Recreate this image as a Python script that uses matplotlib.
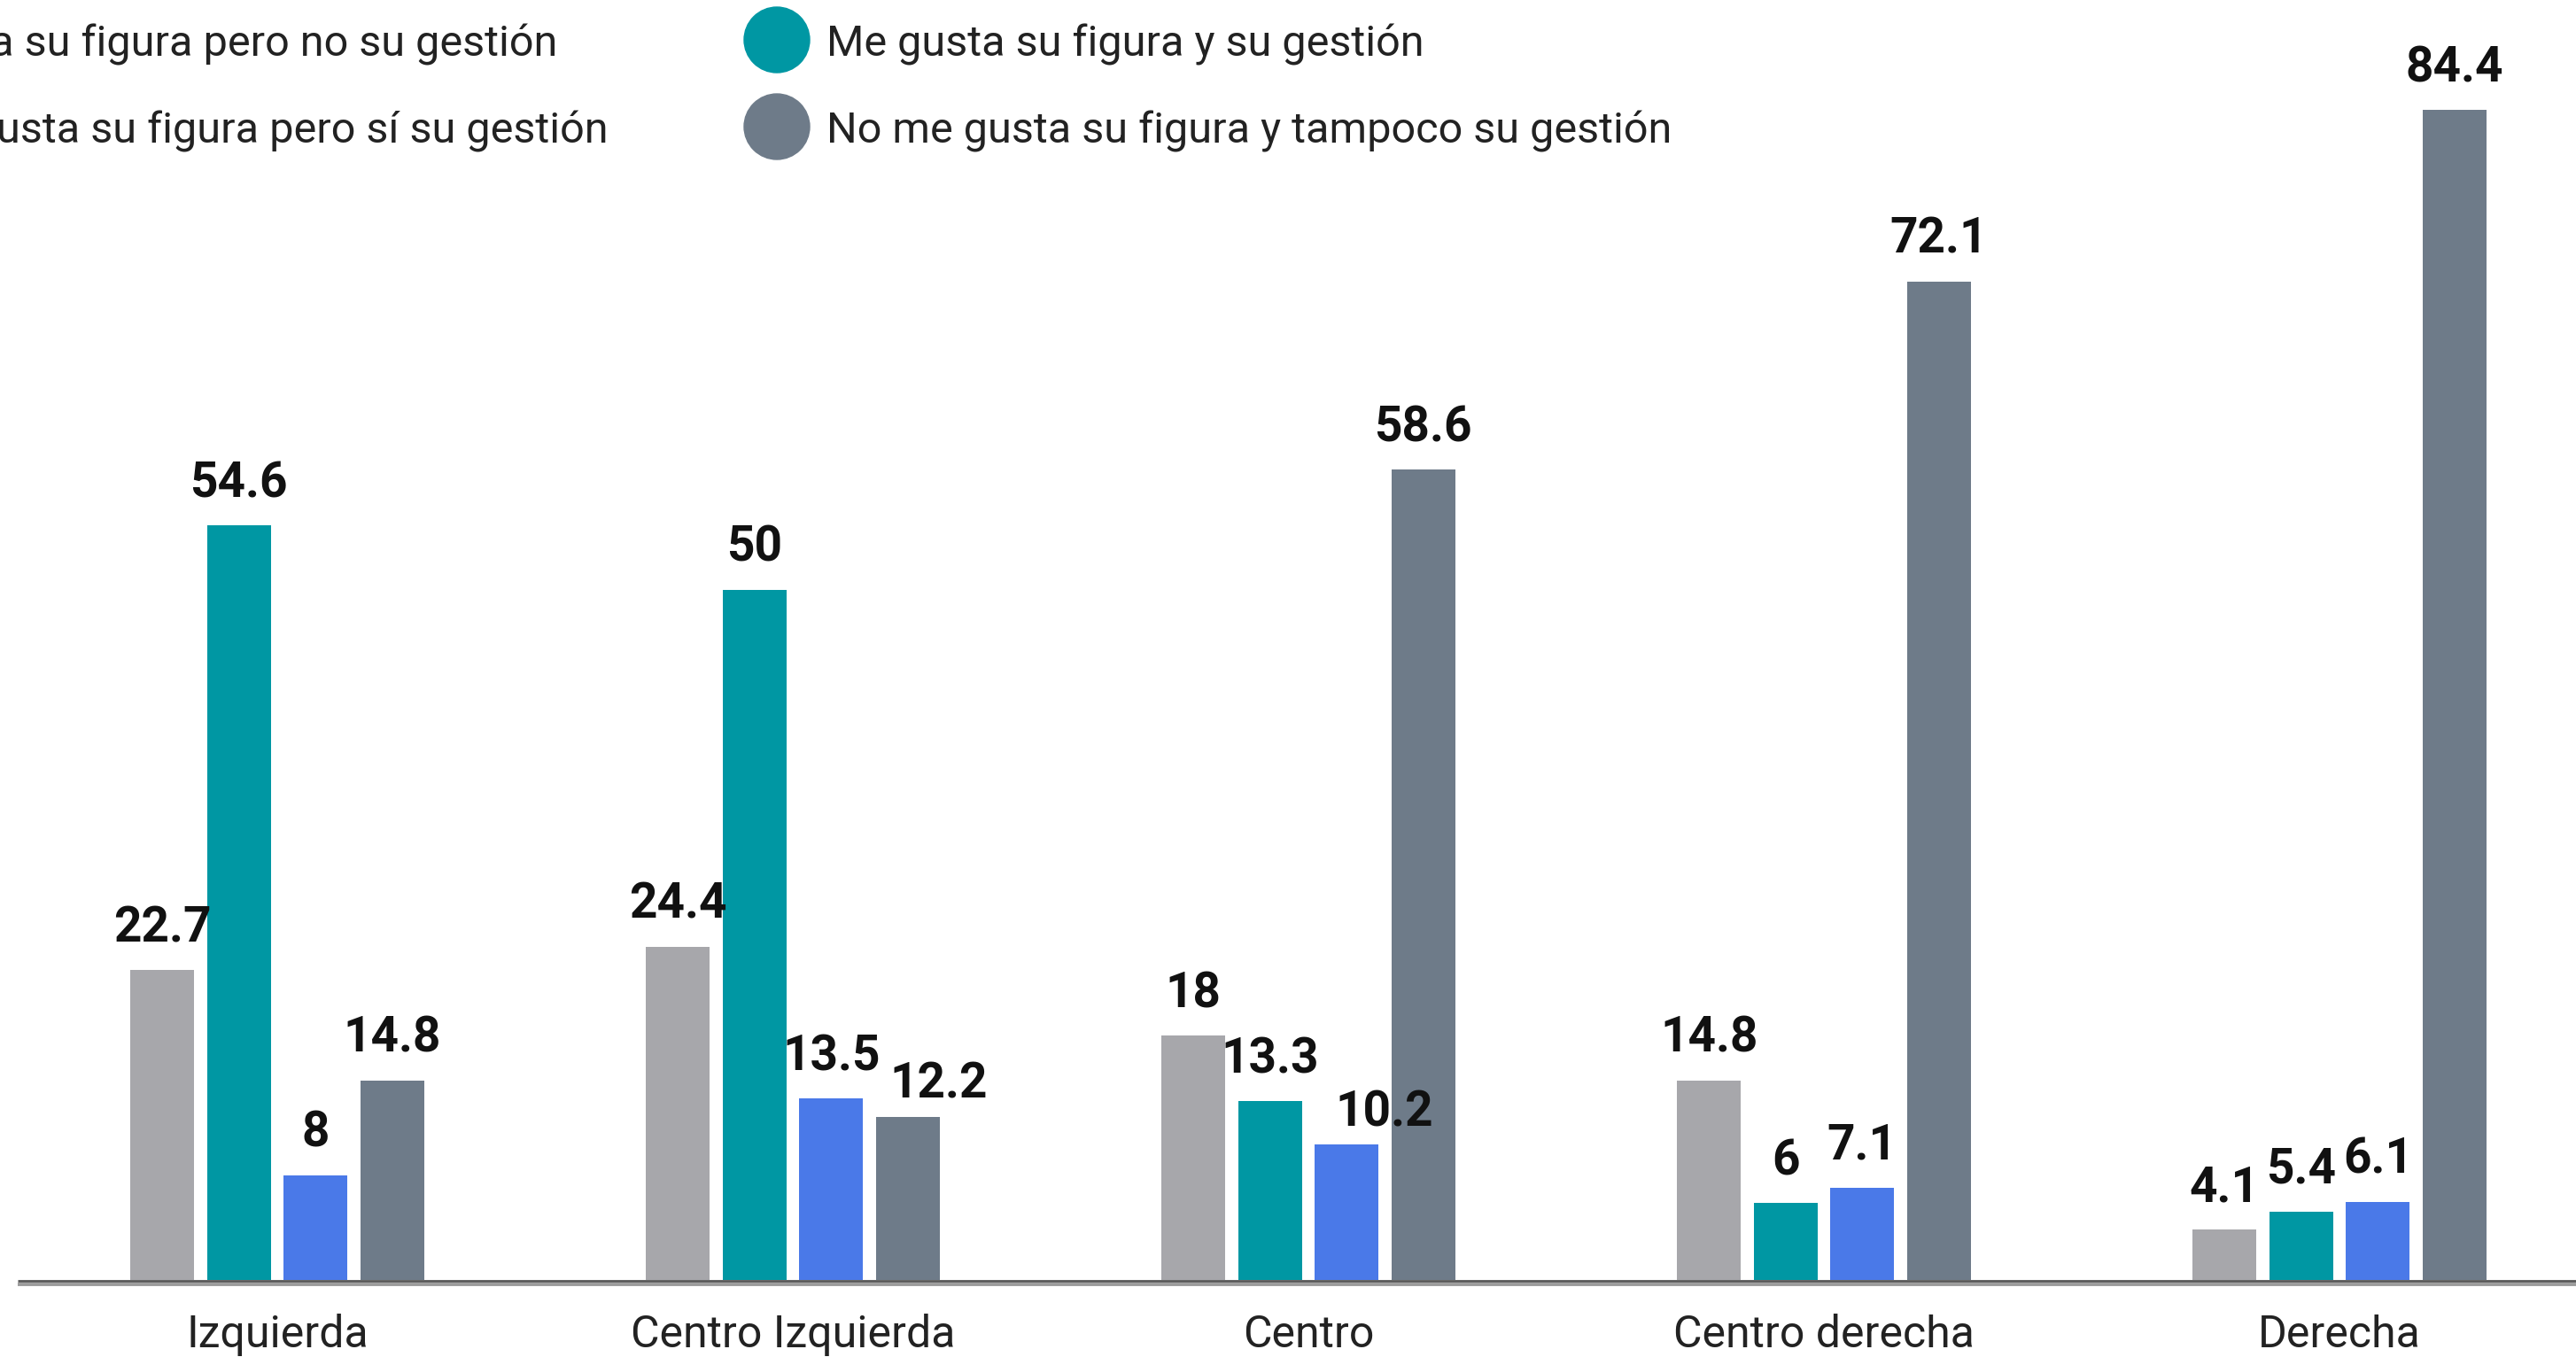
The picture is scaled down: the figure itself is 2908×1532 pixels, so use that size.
import matplotlib.pyplot as plt
from matplotlib.patches import Circle
import numpy as np

plt.rcParams['font.family'] = ['Roboto', 'DejaVu Sans']

# data
categorias = ['Izquierda', 'Centro Izquierda', 'Centro', 'Centro derecha', 'Derecha']
series = ['Me gusta su figura pero no su gestión',
          'Me gusta su figura y su gestión',
          'No me gusta su figura pero sí su gestión',
          'No me gusta su figura y tampoco su gestión']
figura_no_gestion = [22.7, 24.4, 18, 14.8, 4.1]
figura_y_gestion = [54.6, 50, 13.3, 6, 5.4]
gestion_no_figura = [8, 13.5, 10.2, 7.1, 6.1]
ni_figura_ni_gestion = [14.8, 12.2, 58.6, 72.1, 84.4]
valores = [figura_no_gestion, figura_y_gestion, gestion_no_figura, ni_figura_ni_gestion]
colores = ['#a7a7ab', '#0097a3', '#4a79e8', '#6e7b89']

# labels that the original nudged aside to avoid collisions, (series, category) -> px
nudge = {(3, 1): (35, -11), (2, 2): (43, -11)}

W, H = 2908, 1532
fig = plt.figure(figsize=(W / 100, H / 100), dpi=100)

base = 1445       # pixel row of the axis line
px_unit = 15.74   # pixels per percent point
lo = 7.6 / px_unit    # the axis line sits a little above the zero of the scale
ax = fig.add_axes([19 / W, (H - base) / H, (W - 19) / W, base / H])
ax.set_xlim((19 - 313) / 582, (W - 313) / 582)
ax.set_ylim(lo, lo + base / px_unit)
ax.axis('off')

x = np.arange(len(categorias))
bw = 72 / 582
step = 86.5 / 582
for i, (vals, col) in enumerate(zip(valores, colores)):
    xs = x + (i - 1.5) * step
    ax.bar(xs, np.array(vals) - lo, bottom=lo, width=bw, color=col, zorder=2)
    for j, (xi, v) in enumerate(zip(xs, vals)):
        dx, dy = nudge.get((i, j), (0, 0))
        ax.annotate(f'{v:g}', (xi, v), xytext=(dx * 0.72, 23 + dy * 0.72),
                    textcoords='offset points', ha='center', va='baseline',
                    fontsize=39.5, fontweight='bold', color='#111111', zorder=5)

for xi, c in zip(x, categorias):
    ax.annotate(c, (xi, 0), xycoords=('data', 'axes fraction'), xytext=(0, -54.7),
                textcoords='offset points', ha='center', va='baseline',
                fontsize=36, color='#222222')

# overlay in pixel coordinates for axis line and legend
ov = fig.add_axes([0, 0, 1, 1], zorder=10)
ov.set_xlim(0, W)
ov.set_ylim(H, 0)
ov.axis('off')
ov.plot([20, W], [base + 1.3, base + 1.3], color='#575757', lw=2.0, solid_capstyle='butt')
ov.plot([20, W], [base + 4.5, base + 4.5], color='#9c9c9c', lw=2.8, solid_capstyle='butt')

# legend, two columns (first column partly cut off at the left edge)
leg_cols = [-242, 877]
leg_rows = [45, 143]
pos = {0: (0, 0), 2: (0, 1), 1: (1, 0), 3: (1, 1)}  # series -> (column, row)
for si, (c, r) in pos.items():
    cx, cy = leg_cols[c], leg_rows[r]
    ov.add_patch(Circle((cx, cy), 37, color=colores[si]))
    ov.text(cx + 56, cy + 18, series[si], ha='left', va='baseline',
            fontsize=35, color='#222222')

fig.savefig('out.png', dpi=100)
